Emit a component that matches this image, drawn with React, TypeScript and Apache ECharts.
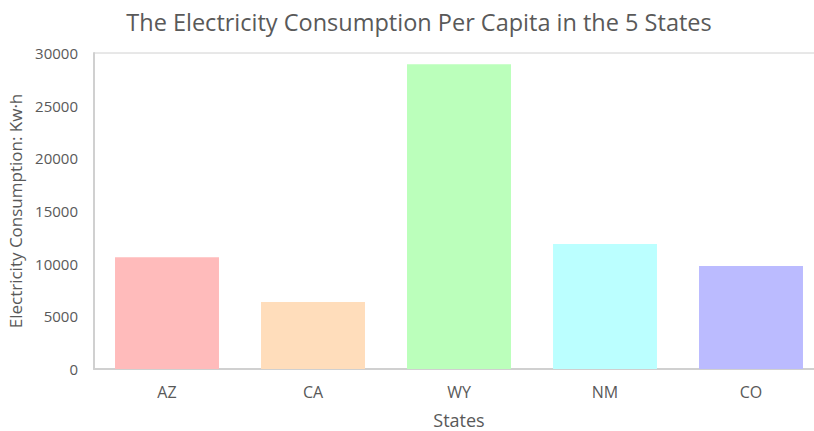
import React, { useEffect, useRef } from "react";
import * as echarts from "echarts";

const states = ["AZ", "CA", "WY", "NM", "CO"];
const consumption = [10620, 6360, 28930, 11860, 9770];
const barColors = ["#FFBBBB", "#FFDDBB", "#BBFFBB", "#BBFFFF", "#BBBBFF"];
const yTicks = { min: 0, max: 30000, interval: 5000 };

const FONT = "'Open Sans', 'Noto Sans', sans-serif";
const TEXT = "#595959";

export default function App() {
  const ref = useRef<HTMLDivElement>(null);
  useEffect(() => {
    if (!ref.current) return;
    const chart = echarts.init(ref.current, null, { renderer: "svg" });
    chart.setOption({
      animation: false,
      backgroundColor: "#ffffff",
      title: {
        text: "The Electricity Consumption Per Capita in the 5 States",
        left: 414,
        textAlign: "center",
        top: 5,
        textStyle: { fontFamily: FONT, fontSize: 23.5, fontWeight: "normal", color: TEXT },
      },
      grid: {
        left: 94,
        width: 730,
        top: 53,
        height: 316,
        show: true,
        borderColor: "#d0d0d0",
        borderWidth: 1,
        containLabel: false,
        outerBoundsMode: "none",
      },
      xAxis: {
        type: "category",
        data: states,
        name: "States",
        nameLocation: "middle",
        nameGap: 42,
        nameTextStyle: { fontFamily: FONT, fontSize: 18, color: TEXT },
        axisLine: { show: true, lineStyle: { color: "#d0d0d0", width: 2 } },
        axisTick: { show: false },
        axisLabel: { fontFamily: FONT, fontSize: 16, color: TEXT, margin: 15 },
      },
      yAxis: {
        type: "value",
        min: yTicks.min,
        max: yTicks.max,
        interval: yTicks.interval,
        name: "Electricity Consumption: Kw·h",
        nameLocation: "middle",
        nameGap: 67,
        nameTextStyle: { fontFamily: FONT, fontSize: 17, color: TEXT },
        axisLine: { show: true, lineStyle: { color: "#d0d0d0", width: 2 } },
        axisTick: { show: false },
        splitLine: { show: false },
        axisLabel: {
          fontFamily: FONT,
          fontSize: 15,
          color: TEXT,
          margin: 16,
          formatter: (v: number) => String(v),
        },
      },
      series: [
        {
          type: "bar",
          data: consumption.map((v, i) => ({ value: v, itemStyle: { color: barColors[i] } })),
          barWidth: "71.2%",
        },
      ],
    });
    return () => chart.dispose();
  }, []);
  return <div ref={ref} style={{ width: 814, height: 431, position: "absolute", left: 0, top: 0, overflow: "hidden" }} />;
}
